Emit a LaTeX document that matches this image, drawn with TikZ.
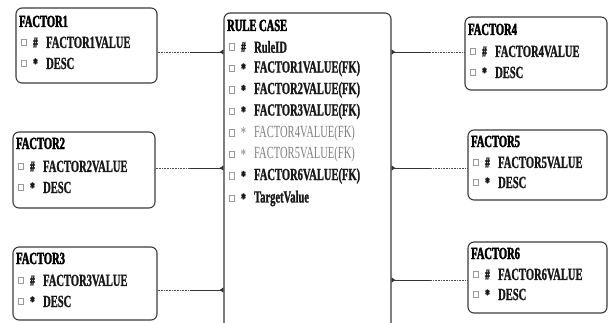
\documentclass[tikz,border=0pt]{standalone}
\usepackage{fontspec}
\setmainfont{Liberation Serif}[FakeStretch=0.62, BoldFeatures={FakeBold=1.2}]
\newfontfamily\heavyfont{Liberation Serif Bold}[FakeStretch=0.62, FakeBold=2.2]
\usetikzlibrary{arrows.meta,calc}
\definecolor{edge}{HTML}{3A3A3A}
\definecolor{lite}{HTML}{808080}
\tikzset{
  ent/.style={draw=edge, line width=1.1pt, rounded corners=6pt, inner sep=0pt},
  ttl/.style={anchor=west, inner sep=0pt, font=\fontsize{17}{17}\selectfont\heavyfont, text=black},
  txt/.style={anchor=west, inner sep=0pt, font=\fontsize{17}{17}\selectfont\bfseries, text=black!90},
  lt/.style={font=\fontsize{17}{17}\selectfont, text=lite},
  sym/.style={inner sep=0pt, font=\fontsize{15}{15}\selectfont\heavyfont, text=black!90},
  sq/.style={draw=black!40, line width=0.5pt, minimum width=5pt, minimum height=6.5pt, inner sep=0pt},
  dotpart/.style={draw=black!70, line width=1pt, dash pattern=on 0.8pt off 0.8pt},
  solpart/.style={draw=black!80, line width=1pt},
  tipped/.style={-{Latex[reversed,length=4pt,width=6pt]}},
}
\newcommand\etitle[3]{\node[ttl] (#1t) at ($(#1.north west)+(3.5,-#2)$) {#3};}
\newcommand\eattr[6][]{%
  \node[sq] (#2#3s) at ($(#2.north west)+(8,-#4)$) {};
  \node[sym,#1] (#2#3m) at ($(#2.north west)+(20,-#4)$) {#5};
  \node[txt,#1] (#2#3x) at ($(#2.north west)+(30.5,-#4)$) {#6};}
\begin{document}
\begin{tikzpicture}[x=1pt,y=1pt]
\useasboundingbox (0,0) rectangle (609,-322);
% entities
\node[ent, minimum width=141pt, minimum height=75pt] (f1) at (86.5,-45.5) {};
\node[ent, minimum width=142pt, minimum height=76pt] (f2) at (84,-170) {};
\node[ent, minimum width=144pt, minimum height=73pt] (f3) at (85,-283.5) {};
\node[ent, minimum width=167pt, minimum height=327pt] (rc) at (307.5,-176.5) {};
\node[ent, minimum width=142pt, minimum height=73pt] (f4) at (536,-53.5) {};
\node[ent, minimum width=139pt, minimum height=70pt] (f5) at (537.5,-165) {};
\node[ent, minimum width=139pt, minimum height=71pt] (f6) at (537.5,-277.5) {};
% factor contents
\etitle{f1}{14}{FACTOR1}
\eattr{f1}{a}{35}{\#}{FACTOR1VALUE}
\eattr{f1}{b}{56}{*}{DESC}
\etitle{f2}{12}{FACTOR2}
\eattr{f2}{a}{35}{\#}{FACTOR2VALUE}
\eattr{f2}{b}{56}{*}{DESC}
\etitle{f3}{12}{FACTOR3}
\eattr{f3}{a}{34}{\#}{FACTOR3VALUE}
\eattr{f3}{b}{55}{*}{DESC}
\etitle{f4}{13}{FACTOR4}
\eattr{f4}{a}{35}{\#}{FACTOR4VALUE}
\eattr{f4}{b}{56}{*}{DESC}
\etitle{f5}{12}{FACTOR5}
\eattr{f5}{a}{33}{\#}{FACTOR5VALUE}
\eattr{f5}{b}{53}{*}{DESC}
\etitle{f6}{12}{FACTOR6}
\eattr{f6}{a}{33}{\#}{FACTOR6VALUE}
\eattr{f6}{b}{53}{*}{DESC}
% rule case contents
\etitle{rc}{13}{RULE CASE}
\eattr{rc}{a}{34.5}{\#}{RuleID}
\eattr{rc}{b}{56}{*}{FACTOR1VALUE(FK)}
\eattr{rc}{c}{77.5}{*}{FACTOR2VALUE(FK)}
\eattr{rc}{d}{99}{*}{FACTOR3VALUE(FK)}
\eattr[lt]{rc}{e}{120.5}{*}{FACTOR4VALUE(FK)}
\eattr[lt]{rc}{f}{142}{*}{FACTOR5VALUE(FK)}
\eattr{rc}{g}{163.5}{*}{FACTOR6VALUE(FK)}
\eattr{rc}{h}{186}{*}{TargetValue}
% connector points
\coordinate (l1) at (rc.west |- 0,-52);
\coordinate (l2) at (rc.west |- 0,-168);
\coordinate (l3) at (rc.west |- 0,-290);
\coordinate (r1) at (rc.east |- 0,-52);
\coordinate (r2) at (rc.east |- 0,-168);
\coordinate (r3) at (rc.east |- 0,-280);
\coordinate (m1) at (190,-52);
\coordinate (m2) at (190,-168);
\coordinate (m3) at (190,-290);
\coordinate (n1) at (430,-52);
\coordinate (n2) at (430,-168);
\coordinate (n3) at (430,-280);
% connectors
\draw[dotpart] (f1.east |- l1) -- (m1);
\draw[solpart,tipped] (m1) -- (l1);
\draw[dotpart] (f2.east |- l2) -- (m2);
\draw[solpart,tipped] (m2) -- (l2);
\draw[dotpart] (f3.east |- l3) -- (m3);
\draw[solpart,tipped] (m3) -- (l3);
\draw[dotpart] (f4.west |- r1) -- (n1);
\draw[solpart,tipped] (n1) -- (r1);
\draw[dotpart] (f5.west |- r2) -- (n2);
\draw[solpart,tipped] (n2) -- (r2);
\draw[dotpart] (f6.west |- r3) -- (n3);
\draw[solpart,tipped] (n3) -- (r3);
\end{tikzpicture}
\end{document}
